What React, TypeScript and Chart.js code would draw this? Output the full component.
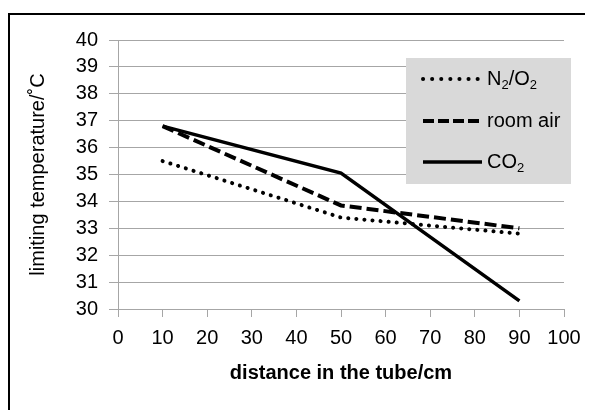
import React, { useEffect, useRef } from "react";
import { Chart, registerables } from "chart.js";

Chart.register(...registerables);

const distances = [10, 50, 90];
const n2o2Values = [35.5, 33.4, 32.8];
const roomAirValues = [36.8, 33.85, 33.0];
const co2Values = [36.8, 35.05, 30.3];
const seriesLabels = ["N₂/O₂", "room air", "CO₂"];
const xTitle = "distance in the tube/cm";
const yTitle = "limiting temperature/˚C";

const FONT = "'Liberation Sans', Arial, sans-serif";
const SUBS: Record<string, string> = { "₀": "0", "₁": "1", "₂": "2", "₃": "3", "₄": "4" };

function drawRich(ctx: CanvasRenderingContext2D, text: string, x: number, y: number, size: number) {
  let cx = x;
  for (const ch of text) {
    if (SUBS[ch]) {
      ctx.font = `${Math.round(size * 0.65)}px ${FONT}`;
      ctx.fillText(SUBS[ch], cx, y + size * 0.3);
      cx += ctx.measureText(SUBS[ch]).width;
    } else {
      ctx.font = `${size}px ${FONT}`;
      ctx.fillText(ch, cx, y);
      cx += ctx.measureText(ch).width;
    }
  }
}

const legendPlugin = {
  id: "boxLegend",
  afterDraw(chart: any) {
    const ctx = chart.ctx as CanvasRenderingContext2D;
    const bx = 396, by = 43, bw = 165, bh = 126;
    ctx.save();
    ctx.fillStyle = "#d9d9d9";
    ctx.fillRect(bx, by, bw, bh);
    const rows = [by + 21, by + 63, by + 104];
    chart.data.datasets.forEach((ds: any, i: number) => {
      const y = rows[i];
      ctx.strokeStyle = "#000";
      ctx.lineWidth = ds.borderWidth;
      ctx.lineCap = ds.borderCapStyle || "butt";
      ctx.setLineDash(ds.legendDash || []);
      ctx.beginPath();
      ctx.moveTo(bx + 17, y);
      ctx.lineTo(bx + 76, y);
      ctx.stroke();
      ctx.setLineDash([]);
      ctx.fillStyle = "#000";
      ctx.textBaseline = "middle";
      ctx.textAlign = "left";
      drawRich(ctx, ds.label, bx + 81, y, 20);
    });
    ctx.restore();
  },
};

export default function App() {
  const ref = useRef<HTMLCanvasElement>(null);
  useEffect(() => {
    const mk = (vals: number[]) => vals.map((v, i) => ({ x: distances[i], y: v }));
    const chart = new Chart(ref.current!, {
      type: "line",
      data: {
        datasets: [
          {
            label: seriesLabels[0],
            data: mk(n2o2Values),
            borderColor: "#000",
            borderWidth: 4,
            borderDash: [0.1, 8],
            borderCapStyle: "round",
            pointRadius: 0,
            legendDash: [0.1, 9],
          } as any,
          {
            label: seriesLabels[1],
            data: mk(roomAirValues),
            borderColor: "#000",
            borderWidth: 4,
            borderDash: [12, 5],
            pointRadius: 0,
            legendDash: [11, 4],
          } as any,
          {
            label: seriesLabels[2],
            data: mk(co2Values),
            borderColor: "#000",
            borderWidth: 3.5,
            pointRadius: 0,
          } as any,
        ],
      },
      options: {
        animation: false,
        responsive: false,
        maintainAspectRatio: false,
        layout: { padding: { top: 25, right: 29, left: 16, bottom: 25 } },
        plugins: { legend: { display: false }, tooltip: { enabled: false } },
        scales: {
          x: {
            type: "linear",
            min: 0,
            max: 100,
            ticks: { stepSize: 10, autoSkip: false, color: "#000", font: { size: 20, family: FONT }, padding: 9, maxRotation: 0 },
            grid: { drawOnChartArea: false, drawTicks: true, tickLength: 8, color: "#a6a6a6" },
            border: { color: "#a6a6a6", width: 1 },
            title: { display: true, text: xTitle, color: "#000", font: { size: 20, weight: "bold", family: FONT }, padding: { top: 0, bottom: 0 } },
            afterFit: (s: any) => { s.height = 76; },
          },
          y: {
            min: 30,
            max: 40,
            ticks: { stepSize: 1, autoSkip: false, color: "#000", font: { size: 20, family: FONT, lineHeight: 1 }, padding: 11 },
            grid: { color: "#a6a6a6", tickLength: 9 },
            border: { color: "#a6a6a6", width: 1 },
            title: { display: true, text: yTitle, color: "#000", font: { size: 20, family: FONT }, padding: { top: 0, bottom: 0 } },
            afterFit: (s: any) => { s.width = 92; },
          },
        },
      },
      plugins: [legendPlugin],
    });
    return () => chart.destroy();
  }, []);
  return (
    <div style={{ marginTop: 5, width: 583, height: 395, borderLeft: "2px solid #000", borderTop: "2px solid #000", background: "#fff" }}>
      <canvas ref={ref} width={583} height={395} style={{ display: "block" }} />
    </div>
  );
}
